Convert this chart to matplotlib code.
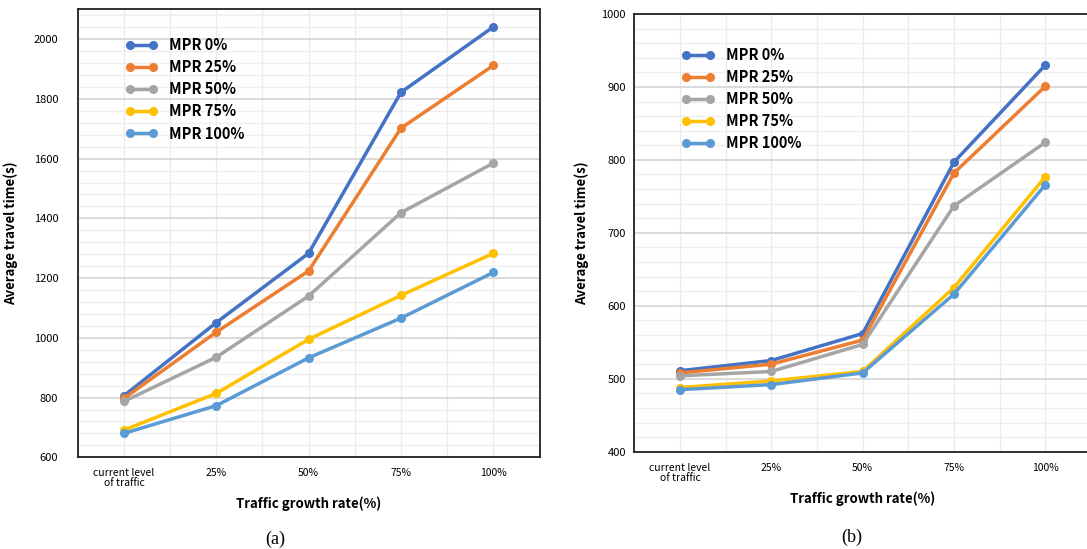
import matplotlib
matplotlib.use("Agg")
import matplotlib.pyplot as plt
from matplotlib.ticker import MultipleLocator, FixedLocator

categories = ["current level\nof traffic", "25%", "50%", "75%", "100%"]
series_names = ["MPR 0%", "MPR 25%", "MPR 50%", "MPR 75%", "MPR 100%"]
colors = ["#4472C4", "#ED7D31", "#A5A5A5", "#FFC000", "#5B9BD5"]

# Panel (a)
a_mpr0 = [806, 1051, 1283, 1822, 2041]
a_mpr25 = [797, 1019, 1224, 1702, 1912]
a_mpr50 = [787, 935, 1140, 1419, 1585]
a_mpr75 = [691, 814, 995, 1142, 1283]
a_mpr100 = [680, 773, 933, 1066, 1219]

# Panel (b)
b_mpr0 = [511, 525, 562, 797, 930]
b_mpr25 = [508, 520, 553, 782, 901]
b_mpr50 = [504, 510, 547, 737, 824]
b_mpr75 = [488, 497, 510, 625, 777]
b_mpr100 = [485, 492, 508, 616, 766]

FONT = ["Noto Sans CJK KR", "DejaVu Sans"]
plt.rcParams["font.family"] = FONT

W, H = 1087, 549
fig = plt.figure(figsize=(W / 100, H / 100), dpi=100)


def px_axes(l, t, r, b):
    return fig.add_axes([l / W, 1 - b / H, (r - l) / W, (b - t) / H])


def draw(ax, data, ylim, major, minor, leg_anchor, ytick_pad):
    x = list(range(len(categories)))
    for vals, name, c in zip(data, series_names, colors):
        ax.plot(x, vals, color=c, lw=2.5, marker="o", ms=5.5, label=name,
                solid_capstyle="round", zorder=3)
    ax.set_xlim(-0.5, 4.5)
    ax.set_ylim(*ylim)
    ax.yaxis.set_major_locator(MultipleLocator(major))
    ax.yaxis.set_minor_locator(MultipleLocator(minor))
    ax.set_xticks(x)
    ax.set_xticklabels(categories, fontsize=7.5, linespacing=1.0)
    ax.xaxis.set_minor_locator(FixedLocator([i + 0.5 for i in range(-1, 5)]))
    ax.grid(axis="y", which="major", color="#D4D4D4", lw=1.2, zorder=0)
    ax.grid(axis="y", which="minor", color="#EEEEEE", lw=1.0, zorder=0)
    ax.grid(axis="x", which="both", color="#EBEBEB", lw=1.0, zorder=0)
    ax.tick_params(which="both", length=0)
    ax.tick_params(axis="y", labelsize=8, pad=ytick_pad)
    ax.tick_params(axis="x", pad=8)
    for s in ax.spines.values():
        s.set_color("#222222")
        s.set_linewidth(1.3)
    ax.set_axisbelow(True)
    ax.set_xlabel("Traffic growth rate(%)", fontsize=9.5, fontweight="bold", labelpad=6)
    ax.set_ylabel("Average travel time(s)", fontsize=9.5, fontweight="bold")
    ax.legend(loc="upper left", bbox_to_anchor=leg_anchor, frameon=False,
              numpoints=2, handlelength=2.2, handletextpad=0.8,
              labelspacing=0.42, borderaxespad=0, borderpad=0,
              prop={"family": FONT, "weight": "bold", "size": 10.5})


ax1 = px_axes(77.7, 9.3, 539.5, 457.3)
draw(ax1, [a_mpr0, a_mpr25, a_mpr50, a_mpr75, a_mpr100], (600, 2100), 200, 40,
     (0.104, 0.938), 14)
ax1.yaxis.set_label_coords(-0.13, 0.5)

ax2 = px_axes(634.3, 14, 1091, 451.7)
draw(ax2, [b_mpr0, b_mpr25, b_mpr50, b_mpr75, b_mpr100], (400, 1000), 100, 20,
     (0.104, 0.925), 6)
ax2.yaxis.set_label_coords(-0.1, 0.5)

fig.text(275 / W, 1 - 539 / H, "(a)", ha="center", va="center",
         fontsize=13, family="Liberation Serif")
fig.text(852 / W, 1 - 537 / H, "(b)", ha="center", va="center",
         fontsize=13, family="Liberation Serif")

fig.savefig("out.png", dpi=100)
